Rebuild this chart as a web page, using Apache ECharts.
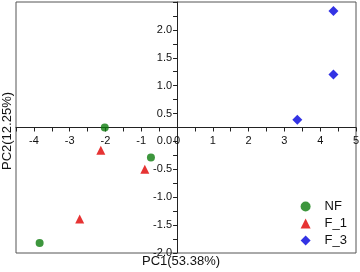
<!DOCTYPE html>
<html><head><meta charset="utf-8">
<script src="https://cdn.jsdelivr.net/npm/echarts@6/dist/echarts.min.js"></script>
<style>html,body{margin:0;padding:0;background:#fff}#c{width:360px;height:272px}</style>
</head><body><div id="c"></div>
<script>
const seriesNames = ['NF', 'F_1', 'F_3'];
const nfData = [[-2.02, 0.25], [-0.73, -0.29], [-3.84, -1.82]];
const f1Data = [[-2.13, -0.16], [-0.90, -0.50], [-2.72, -1.39]];
const f3Data = [[4.37, 2.34], [4.37, 1.20], [3.36, 0.39]];
const xName = 'PC1(53.38%)';
const yName = 'PC2(12.25%)';
const xRange = [-4.5, 5];
const yRange = [-2, 2.5];
const xAxisCross = 0.25; // horizontal axis crosses PC2 here
const yAxisCross = 0;    // vertical axis crosses PC1 here

const font = 'Liberation Sans, Arial, sans-serif';
const chart = echarts.init(document.getElementById('c'), null, {renderer: 'canvas'});
chart.setOption({
  animation: false,
  grid: {left: 16, right: 4, top: 2, bottom: 19, show: true, borderColor: '#555', borderWidth: 1,
    containLabel: false, outerBoundsMode: 'none'},
  xAxis: {
    type: 'value', min: xRange[0], max: xRange[1], interval: 0.5, position: 'bottom', offset: 0,
    axisLine: {onZero: false, lineStyle: {color: '#222', width: 1}},
    axisTick: {show: true, length: 4, lineStyle: {color: '#222'}},
    axisLabel: {color: '#111', fontFamily: font, fontSize: 11, margin: 8,
      formatter: v => Number.isInteger(v) ? String(v) : ''},
    splitLine: {show: false}
  },
  yAxis: {
    type: 'value', min: yRange[0], max: yRange[1], interval: 0.25, position: 'left', offset: 0,
    axisLine: {onZero: false, lineStyle: {color: '#222', width: 1}},
    axisTick: {show: true, length: 4, lineStyle: {color: '#222'}},
    axisLabel: {color: '#111', fontFamily: font, fontSize: 11, margin: 5,
      formatter: v => (Math.abs(v * 2 - Math.round(v * 2)) < 1e-9 && v < yRange[1]) ? v.toFixed(1) : ''},
    splitLine: {show: false}
  },
  legend: {
    orient: 'vertical', right: 8, bottom: 20, itemGap: 4, itemWidth: 10, itemHeight: 10,
    textStyle: {fontFamily: font, fontSize: 13, color: '#111', padding: [0, 0, 0, 9]},
    data: [
      {name: seriesNames[0], icon: 'circle'},
      {name: seriesNames[1], icon: 'triangle'},
      {name: seriesNames[2], icon: 'diamond'}
    ]
  },
  graphic: [
    {type: 'text', left: 142, top: 255, style: {text: xName, font: '13px ' + font, fill: '#111'}},
    {type: 'text', rotation: Math.PI / 2, x: 1, y: 170, style: {text: yName, font: '13px ' + font, fill: '#111'}}
  ],
  series: [
    {name: seriesNames[0], type: 'scatter', data: nfData, symbol: 'circle', symbolSize: 8,
      itemStyle: {color: '#0c7c0c'}},
    {name: seriesNames[1], type: 'scatter', data: f1Data, symbol: 'triangle', symbolSize: 9,
      itemStyle: {color: '#e00000'}},
    {name: seriesNames[2], type: 'scatter', data: f3Data, symbol: 'diamond', symbolSize: 10,
      itemStyle: {color: '#0000dd'}}
  ]
});
// Move the axes so they cross inside the plot, using the library's own scales.
const cross = chart.convertToPixel({gridIndex: 0}, [yAxisCross, xAxisCross]);
const corner = chart.convertToPixel({gridIndex: 0}, [xRange[0], yRange[0]]);
chart.setOption({
  xAxis: {offset: -(corner[1] - cross[1])},
  yAxis: {offset: -(cross[0] - corner[0])}
});
</script></body></html>
